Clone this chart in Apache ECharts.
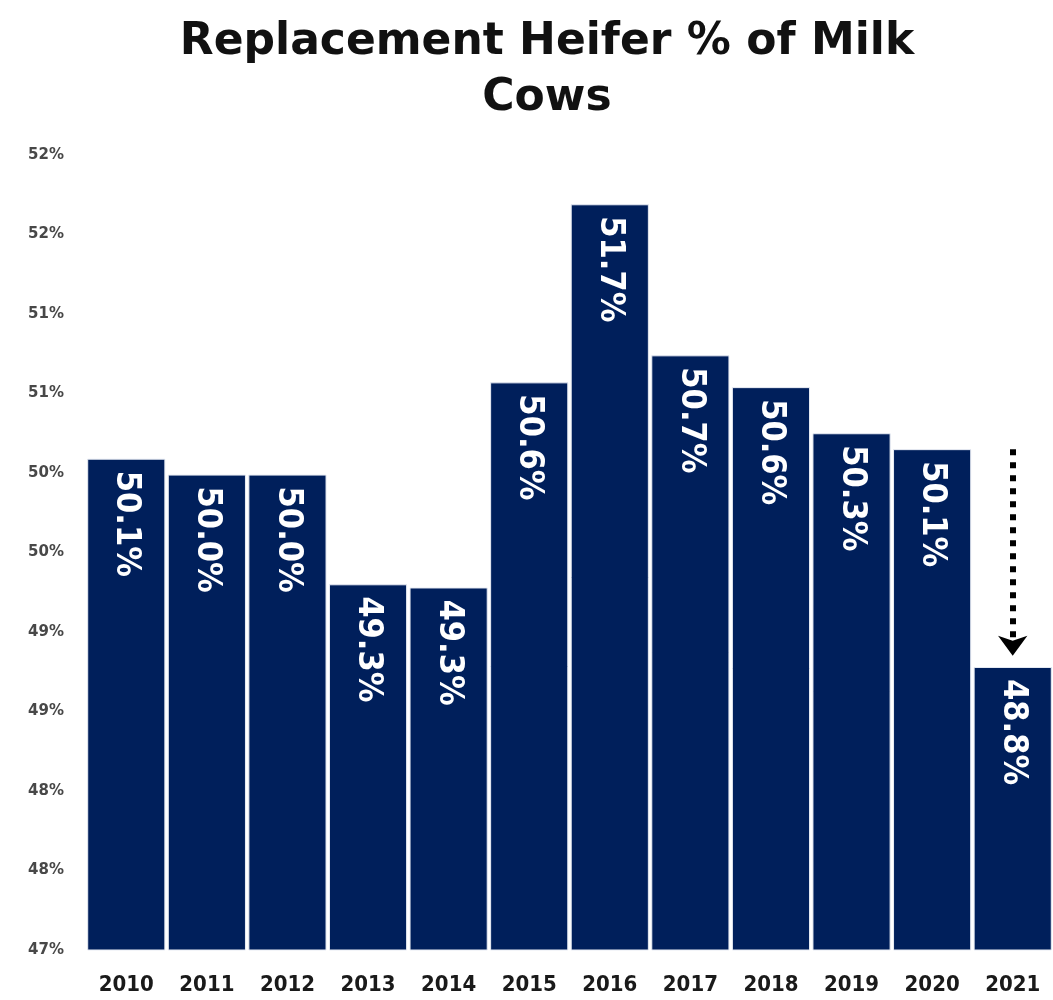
<!DOCTYPE html>
<html>
<head>
<meta charset="utf-8">
<script src="https://cdn.jsdelivr.net/npm/echarts@6/dist/echarts.min.js"></script>
<style>
  html, body { margin: 0; padding: 0; background: #fff; }
  #chart { width: 1053px; height: 1000px; }
</style>
</head>
<body>
<div id="chart"></div>
<script>
const years = ['2010', '2011', '2012', '2013', '2014', '2015', '2016', '2017', '2018', '2019', '2020', '2021']
const heiferPct = [50.09, 49.99, 49.99, 49.3, 49.28, 50.57, 51.69, 50.74, 50.54, 50.25, 50.15, 48.78]
const barLabels = ['50.1%', '50.0%', '50.0%', '49.3%', '49.3%', '50.6%', '51.7%', '50.7%', '50.6%', '50.3%', '50.1%', '48.8%']
const arrowFrom = 50.15
const arrowTo = 48.8

const chart = echarts.init(document.getElementById('chart'), null, { renderer: 'canvas' })

chart.setOption({
  backgroundColor: '#fff',
  animation: false,
  title: {
    text: 'Replacement Heifer % of Milk\nCows',
    left: 547,
    textAlign: 'center',
    top: 15,
    padding: 0,
    textStyle: {
      fontFamily: 'DejaVu Sans',
      fontWeight: 'bold',
      fontSize: 44,
      lineHeight: 56,
      color: '#111',
    },
  },
  grid: {
    left: 86,
    right: 0,
    top: 155,
    bottom: 50,
  },
  xAxis: {
    type: 'category',
    data: years,
    axisLine: { show: false },
    axisTick: { show: false },
    axisLabel: {
      margin: 24,
      fontFamily: 'DejaVu Sans Condensed',
      fontWeight: 'bold',
      fontSize: 22,
      color: '#1a1a1a',
    },
  },
  yAxis: {
    type: 'value',
    min: 47,
    max: 52,
    interval: 0.5,
    splitLine: { show: false },
    axisLine: { show: false },
    axisTick: { show: false },
    axisLabel: {
      margin: 22,
      fontFamily: 'DejaVu Sans',
      fontWeight: 'bold',
      fontSize: 15,
      color: '#484848',
      formatter: (v) => Math.round(v + 1e-9) + '%',
    },
  },
  series: [
    {
      type: 'bar',
      data: heiferPct,
      barCategoryGap: '3%',
      itemStyle: {
        color: '#001f5b',
        borderColor: '#e8ecf4',
        borderWidth: 1,
      },
      label: {
        show: true,
        position: 'insideTop',
        rotate: -90,
        align: 'left',
        verticalAlign: 'middle',
        distance: 12,
        fontFamily: 'DejaVu Sans Condensed',
        fontWeight: 'bold',
        fontSize: 34,
        color: '#fff',
        formatter: (p) => barLabels[p.dataIndex],
      },
      markLine: {
        silent: true,
        symbol: ['none', 'arrow'],
        symbolSize: [22, 20],
        lineStyle: {
          color: '#000',
          type: [6, 7],
          width: 6,
        },
        label: { show: false },
        data: [
          [
            { coord: ['2021', arrowFrom] },
            { coord: ['2021', arrowTo + 0.05] },
          ],
        ],
      },
    },
  ],
})
</script>
</body>
</html>
